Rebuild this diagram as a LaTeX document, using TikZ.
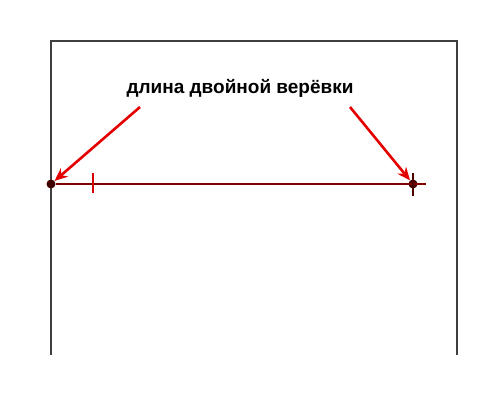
\documentclass[tikz,border=0pt]{standalone}
\usepackage{fontspec}
\setmainfont{Liberation Sans}
\usetikzlibrary{arrows.meta}

\tikzset{
  wall/.style={draw=black!75, line width=2.8pt},
  rope/.style={draw=red!50!black, line width=2.2pt},
  pointer/.style={draw=red!90!black, line width=2.6pt, -{Stealth[length=13pt,width=11pt]}},
  knot/.style={circle, fill=red!25!black, inner sep=0pt, minimum size=9pt}
}

\begin{document}
\begin{tikzpicture}[x=1pt,y=-1pt]
\useasboundingbox (0,0) rectangle (500,405);
% frame
\draw[wall] (51,355) -- (51,41) -- (457,41) -- (457,355);
% rope
\node[knot] (a) at (51,184) {};
\node[knot] (b) at (413,184) {};
\coordinate (e) at (426,184);
\draw[rope] (a) -- (e);
\draw[draw=red!85!black, line width=2.2pt] (93,173) -- (93,193);
\draw[draw=red!30!black, line width=2.2pt] (413,173) -- (413,196);
% label
\node[font=\bfseries\fontsize{19}{22}\selectfont] (lbl) at (240,88) {длина двойной верёвки};
\coordinate (p1) at (140,107);
\coordinate (p2) at (350,107);
\draw[pointer] (p1) -- (a);
\draw[pointer] (p2) -- (b);
\end{tikzpicture}
\end{document}
